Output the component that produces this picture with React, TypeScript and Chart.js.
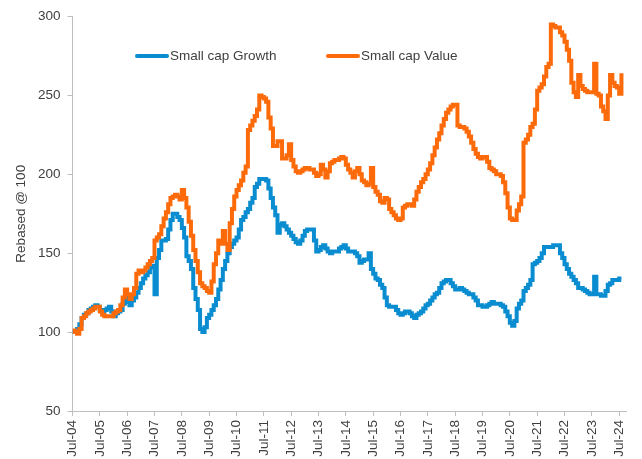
import React, { useEffect, useRef } from 'react';
import { Chart, registerables } from 'chart.js';

Chart.register(...registerables);

// Month index 0 = Jul-2004 (monthly observations)
const tickMonths = [0, 12, 24, 36, 48, 60, 72, 84, 96, 108, 120, 132, 144, 156, 168, 180, 192, 204, 216, 228, 240];
const tickLabels = ['Jul-04', 'Jul-05', 'Jul-06', 'Jul-07', 'Jul-08', 'Jul-09', 'Jul-10', 'Jul-11', 'Jul-12', 'Jul-13', 'Jul-14', 'Jul-15', 'Jul-16', 'Jul-17', 'Jul-18', 'Jul-19', 'Jul-20', 'Jul-21', 'Jul-22', 'Jul-23', 'Jul-24'];

const seriesNames = ['Small cap Growth', 'Small cap Value'];

const smallCapGrowth = [
  100, 100, 102, 105, 109, 111, 112, 114, 115, 116, 117, 116,
  114, 113, 114, 115, 116, 113, 110, 112, 113, 114, 118, 122,
  119, 117, 120, 122, 125, 128, 131, 134, 136, 138, 141, 142,
  124, 147, 152, 158, 158, 159, 165, 171, 175, 175, 173, 171,
  166, 160, 148, 145, 140, 128, 121, 114, 102, 100, 103, 109,
  111, 114, 117, 121, 127, 133, 140, 145, 150, 154, 156, 158,
  160, 165, 171, 173, 176, 178, 182, 185, 192, 194, 197, 197,
  197, 196, 191, 185, 179, 174, 163, 168, 169, 167, 165, 163,
  161, 159, 157, 156, 158, 161, 164, 165, 165, 165, 158, 151,
  152, 154, 155, 153, 151, 150, 151, 151, 151, 153, 154, 155,
  153, 151, 151, 151, 150, 148, 144, 145, 146, 146, 150, 140,
  137, 134, 133, 130, 128, 122, 117, 116, 116, 116, 114, 112,
  111, 112, 113, 113, 112, 110, 109, 111, 112, 113, 115, 117,
  118, 120, 122, 124, 125, 128, 131, 132, 133, 133, 131, 129,
  127, 127, 128, 127, 126, 125, 124, 124, 122, 120, 117, 117,
  116, 116, 117, 118, 119, 118, 118, 118, 117, 116, 113, 110,
  106, 104, 107, 115, 118, 120, 126, 128, 130, 133, 143, 144,
  145, 147, 150, 154, 154, 154, 154, 155, 155, 155, 150, 147,
  143, 140, 137, 135, 133, 131, 128, 128, 127, 126, 125, 124,
  124, 135, 124, 124, 123, 123, 126, 130, 131, 133, 133, 133,
  134, 134
];

const smallCapValue = [
  101, 100, 99, 102, 109, 110, 112, 113, 114, 115, 116, 116,
  113, 111, 110, 110, 110, 110, 112, 113, 114, 117, 122, 127,
  124, 121, 124, 128, 137, 139, 138, 139, 141, 143, 145, 147,
  158, 160, 162, 167, 172, 176, 181, 185, 186, 187, 186, 184,
  190, 185, 179, 170, 161, 152, 145, 138, 131, 129, 128, 126,
  125, 132, 143, 150, 158, 156, 164, 156, 152, 169, 178, 186,
  190, 193, 196, 201, 205, 228, 231, 234, 237, 241, 250, 249,
  248, 246, 236, 229, 218, 218, 221, 221, 210, 210, 212, 219,
  209, 205, 202, 201, 202, 203, 204, 204, 203, 203, 201, 199,
  200, 206, 203, 198, 202, 207, 208, 209, 209, 210, 211, 210,
  206, 203, 201, 198, 202, 204, 200, 196, 195, 193, 194, 204,
  192, 189, 187, 183, 182, 185, 184, 178, 176, 174, 172, 171,
  172, 179, 180, 181, 181, 180, 184, 189, 192, 195, 197, 200,
  203, 207, 212, 217, 222, 226, 231, 235, 239, 241, 243, 244,
  244, 231, 230, 230, 229, 227, 224, 220, 216, 213, 211, 210,
  211, 211, 208, 204, 203, 202, 200, 200, 199, 195, 188, 179,
  172, 171, 171, 177, 181, 186, 220, 222, 225, 230, 232, 241,
  253, 255, 257, 262, 268, 270, 295, 294, 293, 293, 290, 288,
  284, 279, 272, 258, 252, 249, 263, 256, 254, 253, 252, 252,
  252, 270, 251, 250, 243, 240, 235, 250, 263, 258, 256, 255,
  251, 264
];

const colors = ['#0a8dd0', '#fc6a0a'];
const textColor = '#404040';
const axisColor = '#bfbfbf';
const fontFamily = '"Liberation Sans", Arial, sans-serif';

const legendPlugin = {
  id: 'insideLegend',
  afterDraw(chart: any) {
    const ctx = chart.ctx;
    const items = [
      { x: 137, label: seriesNames[0], color: colors[0] },
      { x: 328, label: seriesNames[1], color: colors[1] },
    ];
    const y = 56;
    ctx.save();
    ctx.font = `13.5px ${fontFamily}`;
    ctx.textBaseline = 'middle';
    ctx.textAlign = 'left';
    items.forEach((it) => {
      ctx.strokeStyle = it.color;
      ctx.lineWidth = 4;
      ctx.lineCap = 'round';
      ctx.beginPath();
      ctx.moveTo(it.x, y);
      ctx.lineTo(it.x + 30, y);
      ctx.stroke();
      ctx.fillStyle = textColor;
      ctx.fillText(it.label, it.x + 33, y + 0.5);
    });
    ctx.restore();
  },
};

export default function App() {
  const canvasRef = useRef<HTMLCanvasElement | null>(null);

  useEffect(() => {
    const canvas = canvasRef.current;
    if (!canvas) return;
    const chart = new Chart(canvas, {
      type: 'line',
      data: {
        datasets: [
          {
            label: seriesNames[0],
            data: smallCapGrowth.map((v, i) => ({ x: i, y: v })),
            borderColor: colors[0],
            backgroundColor: colors[0],
            borderWidth: 4,
            pointRadius: 0,
            stepped: true,
            order: 2,
          },
          {
            label: seriesNames[1],
            data: smallCapValue.map((v, i) => ({ x: i, y: v })),
            borderColor: colors[1],
            backgroundColor: colors[1],
            borderWidth: 4,
            pointRadius: 0,
            stepped: true,
            order: 1,
          },
        ],
      },
      options: {
        animation: false,
        responsive: false,
        maintainAspectRatio: false,
        layout: { padding: { left: 0, right: 16, top: 16.5, bottom: 0 } },
        plugins: {
          legend: { display: false },
          tooltip: { enabled: false },
        },
        scales: {
          x: {
            type: 'linear',
            min: 0,
            max: 243,
            afterBuildTicks: (scale: any) => {
              scale.ticks = tickMonths.map((v) => ({ value: v }));
            },
            afterFit: (scale: any) => {
              scale.height = 48;
            },
            ticks: {
              autoSkip: false,
              minRotation: 90,
              maxRotation: 90,
              padding: 4,
              color: textColor,
              font: { family: fontFamily, size: 13.5 },
              callback: (val: any) => {
                const idx = tickMonths.indexOf(Number(val));
                return idx >= 0 ? tickLabels[idx] : '';
              },
            },
            grid: {
              display: true,
              drawOnChartArea: false,
              drawTicks: true,
              tickLength: 5,
              color: axisColor,
              lineWidth: 1,
            },
            border: { display: true, color: axisColor, width: 1 },
          },
          y: {
            min: 50,
            max: 300,
            afterFit: (scale: any) => {
              scale.width = 72.5;
            },
            ticks: {
              stepSize: 50,
              padding: 7,
              color: textColor,
              font: { family: fontFamily, size: 13.5 },
            },
            grid: {
              display: true,
              drawOnChartArea: false,
              drawTicks: true,
              tickLength: 5,
              color: axisColor,
              lineWidth: 1,
            },
            border: { display: true, color: axisColor, width: 1 },
            title: {
              display: true,
              text: 'Rebased @ 100',
              color: textColor,
              font: { family: fontFamily, size: 13.5 },
              padding: { top: 13, bottom: 0 },
            },
          },
        },
      },
      plugins: [legendPlugin],
    });
    return () => chart.destroy();
  }, []);

  return (
    <div style={{ position: 'fixed', left: 0, top: 0, width: 642, height: 459, background: '#fff' }}>
      <canvas ref={canvasRef} width={642} height={459} style={{ width: 642, height: 459 }} />
    </div>
  );
}
